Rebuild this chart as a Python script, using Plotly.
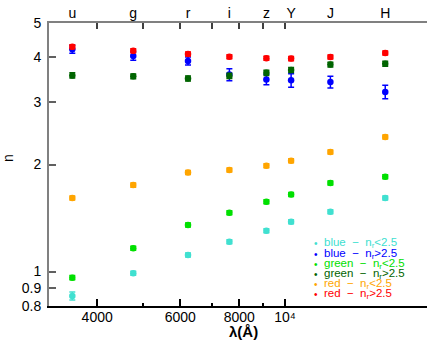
import numpy as np
import plotly.graph_objects as go

bands = ["u", "g", "r", "i", "z", "Y", "J", "H"]
wavelength = [3543, 4770, 6231, 7625, 9134, 10305, 12483, 16313]

series_names = ["blue − n<sub>r</sub>&lt;2.5", "blue − n<sub>r</sub>&gt;2.5",
                "green − n<sub>r</sub>&lt;2.5", "green − n<sub>r</sub>&gt;2.5",
                "red − n<sub>r</sub>&lt;2.5", "red − n<sub>r</sub>&gt;2.5"]
series_colors = ["#40e0d0", "#0000ff", "#00e000", "#006400", "#ffa500", "#ff0000"]

blue_low = [0.854, 0.989, 1.113, 1.213, 1.302, 1.380, 1.472, 1.610]
blue_high = [4.22, 4.04, 3.91, 3.58, 3.47, 3.45, 3.41, 3.20]
green_low = [0.961, 1.162, 1.352, 1.464, 1.572, 1.648, 1.775, 1.848]
green_high = [3.56, 3.54, 3.49, 3.55, 3.62, 3.69, 3.82, 3.84]
red_low = [1.61, 1.75, 1.90, 1.93, 1.985, 2.05, 2.17, 2.39]
red_high = [4.29, 4.18, 4.09, 4.02, 3.98, 3.97, 4.01, 4.12]

blue_low_err = [0.022, 0.013, 0.014, 0.016, 0.017, 0.018, 0.019, 0.021]
blue_high_err = [0.11, 0.11, 0.10, 0.14, 0.12, 0.15, 0.13, 0.14]
green_low_err = [0.013, 0.015, 0.017, 0.019, 0.020, 0.021, 0.023, 0.024]
green_high_err = [0.06, 0.055, 0.055, 0.06, 0.06, 0.06, 0.06, 0.06]
red_low_err = [0.021, 0.023, 0.024, 0.025, 0.026, 0.027, 0.028, 0.031]
red_high_err = [0.056, 0.054, 0.053, 0.052, 0.052, 0.052, 0.052, 0.054]

series_values = [blue_low, blue_high, green_low, green_high, red_low, red_high]
series_errors = [blue_low_err, blue_high_err, green_low_err, green_high_err,
                 red_low_err, red_high_err]

y_ticks = [0.8, 0.9, 1, 2, 3, 4, 5]
x_ticks = [4000, 6000, 8000, 10000]
x_ticktext = ["4000", "6000", "8000", "10⁴"]
x_minor = [5000, 7000, 9000]

FONT = "Liberation Sans"
W, H = 437, 340
ML, MR, MT, MB = 49, 10, 23, 34
PW, PH = W - ML - MR, H - MT - MB
XR = [np.log10(3162), np.log10(20000)]
YR = [np.log10(0.8), np.log10(5)]

fig = go.Figure()
n_series = len(series_values)
for k, (vals, errs, col) in enumerate(zip(series_values, series_errors, series_colors)):
    fig.add_trace(go.Scatter(
        x=wavelength, y=vals, mode="markers",
        xaxis="x2" if k == n_series - 1 else "x",
        marker=dict(color=col, size=6.5, symbol="circle"),
        error_y=dict(type="data", array=errs, color=col, thickness=1.5, width=3),
        showlegend=False, hoverinfo="skip"))

fig.update_layout(
    width=W, height=H,
    margin=dict(l=ML, r=MR, t=MT, b=MB, autoexpand=False),
    paper_bgcolor="white", plot_bgcolor="white",
    font=dict(family=FONT, size=14, color="black"),
    xaxis=dict(type="log", range=XR, automargin=False,
               tickvals=x_ticks, ticktext=x_ticktext,
               ticks="inside", ticklen=7, tickwidth=1.5, tickcolor="black",
               showline=True, linecolor="black", linewidth=2,
               showgrid=False, zeroline=False,
               minor=dict(tickvals=x_minor, ticks="inside", ticklen=3,
                          tickwidth=1.5, tickcolor="black", showgrid=False),
               ticklabelstandoff=-3,
               tickfont=dict(size=14)),
    xaxis2=dict(type="log", range=XR, automargin=False,
                overlaying="x", side="top", anchor="y",
                tickvals=wavelength, ticktext=bands, ticks="",
                showline=True, linecolor="#808080", linewidth=2,
                minor=dict(tickvals=x_ticks + x_minor, ticks="inside", ticklen=6,
                           tickwidth=1.5, tickcolor="#404040", showgrid=False),
                ticklabelstandoff=-3,
                showgrid=False, zeroline=False, tickfont=dict(size=14)),
    yaxis=dict(type="log", range=YR, automargin=False,
               tickvals=y_ticks, ticktext=[str(v) for v in y_ticks],
               ticks="inside", ticklen=7, tickwidth=1.5, tickcolor="#606060",
               showline=True, linecolor="#808080", linewidth=2,
               showgrid=False, zeroline=False, ticklabelstandoff=3,
               tickfont=dict(size=14)),
    yaxis2=dict(type="log", range=YR, automargin=False,
                overlaying="y", side="right", anchor="x",
                tickvals=y_ticks, showticklabels=False,
                ticks="inside", ticklen=7, tickwidth=1.5, tickcolor="black",
                showline=True, linecolor="black", linewidth=2,
                showgrid=False, zeroline=False),
)

def px_x(x):
    return (x - ML) / PW

def px_y(y):
    return (MT + PH - y) / PH

# axis titles
fig.add_annotation(text="<b>λ(Å)</b>", x=px_x(243), y=px_y(331), xref="paper", yref="paper",
                   showarrow=False, xanchor="center", yanchor="middle",
                   font=dict(size=15, family=FONT))
fig.add_annotation(text="n", x=px_x(8), y=px_y(158), xref="paper", yref="paper",
                   showarrow=False, xanchor="center", yanchor="middle", textangle=-90,
                   font=dict(size=14, family=FONT))

# legend
legend_rows = [243, 254, 264, 274, 284, 294]
for name, col, ry in zip(series_names, series_colors, legend_rows):
    fig.add_annotation(text="•", x=px_x(316), y=px_y(ry), xref="paper", yref="paper",
                       showarrow=False, xanchor="center", yanchor="middle",
                       font=dict(size=10, color=col, family=FONT))
    fig.add_annotation(text=name.replace(" − ", "  −  "), x=px_x(322), y=px_y(ry),
                       xref="paper", yref="paper",
                       showarrow=False, xanchor="left", yanchor="middle",
                       font=dict(size=11.5, color=col, family=FONT))

fig.write_html("out.html")
